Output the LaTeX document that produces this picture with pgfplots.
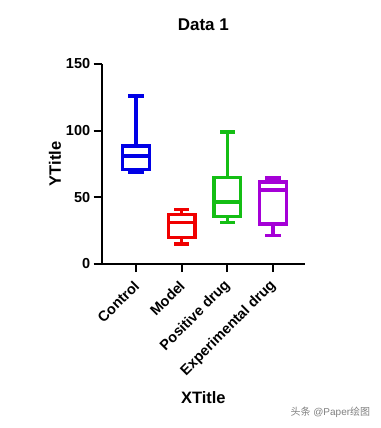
\documentclass[border=0pt]{standalone}
\usepackage{fontspec}
\setmainfont{Liberation Sans}
\newfontfamily\cjk{Noto Sans CJK SC}
\usepackage{pgfplots}
\pgfplotsset{compat=1.18}
\definecolor{cblue}{RGB}{0,0,230}
\definecolor{cred}{RGB}{240,0,0}
\definecolor{cgreen}{RGB}{20,190,20}
\definecolor{cpurple}{RGB}{165,0,215}
\begin{document}
\begin{tikzpicture}
\useasboundingbox (-101.7pt,-164pt) rectangle (278.3pt,264pt);
\begin{axis}[
  at={(0,0)}, anchor=south west,
  scale only axis, width=203.3pt, height=200pt,
  xmin=0.25, xmax=4.7, ymin=0, ymax=150,
  axis x line*=bottom, axis y line*=left,
  axis line style={-, line width=2pt},
  x axis line style={shorten <=-5pt},
  tick style={line width=2pt, black},
  major tick length=8pt,
  tick align=outside,
  ytick={0,50,100,150},
  xtick={1,2,3,4},
  xticklabels={Control, Model, Positive drug, Experimental drug},
  minor tick num=0,
  /pgf/number format/assume math mode=true,
  ticklabel style={font=\fontsize{14.5}{16}\selectfont\bfseries},
  xticklabel style={xshift=3pt, yshift=-9pt, rotate=45, anchor=east},
  title={Data 1},
  title style={at={(axis description cs:0.5,1.165)}, anchor=center, font=\fontsize{17}{19}\selectfont\bfseries},
  xlabel={XTitle},
  xlabel style={at={(axis description cs:0.5,-0.67)}, anchor=center, font=\fontsize{16.5}{19}\selectfont\bfseries},
  ylabel={YTitle},
  ylabel style={at={(axis description cs:-0.23,0.5)}, anchor=center, rotate=0, font=\fontsize{16.5}{19}\selectfont\bfseries},
  clip=false,
  unbounded coords=jump,
]
% Control: lower whisker 68.5, Q1 71, median 81, Q3 88.5, upper whisker 126
\addplot[draw=cblue, line width=3.3pt, line join=miter, line cap=rect, mark=none] coordinates {
 (0.71,71) (1.29,71) (1.29,88.5) (0.71,88.5) (0.71,71) (1,nan)
 (0.71,81) (1.29,81) (1,nan)
 (1,88.5) (1,126) (1,nan)
 (0.87,126) (1.13,126) (1,nan)
 (1,71) (1,68.5) (1,nan)
 (0.87,68.5) (1.13,68.5)
};
% Model: 15, 20, 31, 37, 41
\addplot[draw=cred, line width=3.3pt, line join=miter, line cap=rect, mark=none] coordinates {
 (1.71,20) (2.29,20) (2.29,37) (1.71,37) (1.71,20) (2,nan)
 (1.71,31) (2.29,31) (2,nan)
 (2,37) (2,41) (2,nan)
 (1.87,41) (2.13,41) (2,nan)
 (2,20) (2,15) (2,nan)
 (1.87,15) (2.13,15)
};
% Positive drug: 31, 35.5, 46.5, 65, 99
\addplot[draw=cgreen, line width=3.3pt, line join=miter, line cap=rect, mark=none] coordinates {
 (2.71,35.5) (3.29,35.5) (3.29,65) (2.71,65) (2.71,35.5) (3,nan)
 (2.71,46.5) (3.29,46.5) (3,nan)
 (3,65) (3,99) (3,nan)
 (2.87,99) (3.13,99) (3,nan)
 (3,35.5) (3,31) (3,nan)
 (2.87,31) (3.13,31)
};
% Experimental drug: 21.5, 30, 55.5, 61.5, 64.5
\addplot[draw=cpurple, line width=3.3pt, line join=miter, line cap=rect, mark=none] coordinates {
 (3.71,30) (4.29,30) (4.29,61.5) (3.71,61.5) (3.71,30) (4,nan)
 (3.71,55.5) (4.29,55.5) (4,nan)
 (4,61.5) (4,64.5) (4,nan)
 (3.87,64.5) (4.13,64.5) (4,nan)
 (4,30) (4,21.5) (4,nan)
 (3.87,21.5) (4.13,21.5)
};
\end{axis}
\node[anchor=east, text=gray, font=\fontsize{10}{12}\selectfont] at (272pt,-148pt) {{\cjk 头条} @Paper{\cjk 绘图}};
\end{tikzpicture}
\end{document}
